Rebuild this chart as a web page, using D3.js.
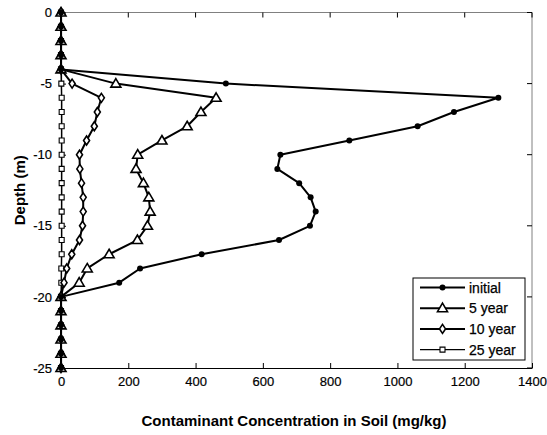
<!DOCTYPE html>
<html>
<head>
<meta charset="utf-8">
<script src="https://cdn.jsdelivr.net/npm/d3@7"></script>
<style>
  body { margin: 0; background: #fff; }
  svg text { font-family: Arial, "Liberation Sans", sans-serif; }
</style>
</head>
<body>
<svg id="chart" width="547" height="435"></svg>
<script>
// depth (m), one point per metre
const depths = d3.range(0, -26, -1);

const initialConc = [0, 0, 0, 0, 0, 490, 1300, 1168, 1060, 857, 652, 643, 708, 742, 757, 740, 648, 418, 235, 173, 0, 0, 0, 0, 0, 0];
const year5Conc   = [0, 0, 0, 0, 0, 163, 461, 416, 375, 300, 228, 223, 245, 261, 265, 257, 227, 143, 78, 54, 0, 0, 0, 0, 0, 0];
const year10Conc  = [0, 0, 0, 0, 0, 33, 120, 108, 99, 76, 55, 56, 61, 66, 66, 64, 55, 32, 17, 9, 0, 0, 0, 0, 0, 0];
const year25Conc  = [0, 0, 0, 0, 0, 1, 2, 2, 2, 2, 2, 2, 2, 2, 2, 2, 2, 2, 1, 1, 0, 0, 0, 0, 0, 0];

const seriesNames = ["initial", "5 year", "10 year", "25 year"];
const xTicks = [0, 200, 400, 600, 800, 1000, 1200, 1400];
const yTicks = [0, -5, -10, -15, -20, -25];

const margin = { top: 12.5, right: 15, bottom: 67, left: 61 };
const width = 547 - margin.left - margin.right,
      height = 435 - margin.top - margin.bottom;

const svg = d3.select("#chart")
  .append("g")
  .attr("transform", `translate(${margin.left},${margin.top})`);

const x = d3.scaleLinear().domain([0, 1400]).range([0, width]);
const y = d3.scaleLinear().domain([0, -25]).range([0, height]);

const series = [
  { name: seriesNames[0], values: initialConc, marker: "circle", lw: 2 },
  { name: seriesNames[1], values: year5Conc, marker: "triangle", lw: 2 },
  { name: seriesNames[2], values: year10Conc, marker: "diamond", lw: 2 },
  { name: seriesNames[3], values: year25Conc, marker: "square", lw: 1.3 }
];

// box: top and right in grey
svg.append("line").attr("x1", 0).attr("x2", width).attr("y1", 0).attr("y2", 0)
  .attr("stroke", "#808080");
svg.append("line").attr("x1", width).attr("x2", width).attr("y1", 0).attr("y2", height)
  .attr("stroke", "#808080");

// mirrored ticks on top / right
svg.append("g").selectAll("line").data(xTicks).join("line")
  .attr("x1", d => x(d)).attr("x2", d => x(d))
  .attr("y1", 0).attr("y2", 5).attr("stroke", "#000");
svg.append("g").selectAll("line").data(yTicks).join("line")
  .attr("x1", width).attr("x2", width - 5)
  .attr("y1", d => y(d)).attr("y2", d => y(d)).attr("stroke", "#000");

// axes, ticks point inward; plain hyphen for negatives, no thousands comma
const fmt = d => String(d);
const xAxis = svg.append("g")
  .attr("transform", `translate(0,${height})`)
  .call(d3.axisBottom(x).tickValues(xTicks).tickFormat(fmt).tickSizeInner(-5).tickSizeOuter(0).tickPadding(9));
const yAxis = svg.append("g")
  .call(d3.axisLeft(y).tickValues(yTicks).tickFormat(fmt).tickSizeInner(-5).tickSizeOuter(0).tickPadding(9));

[xAxis, yAxis].forEach(a => {
  a.select(".domain").attr("stroke", "#000").attr("stroke-width", 1.2);
  a.selectAll(".tick line").attr("stroke", "#000");
  a.selectAll("text").style("font-size", "13px").attr("fill", "#000")
    .attr("stroke", "#000").attr("stroke-width", 0.2);
});

// markers
function markerPath(type) {
  if (type === "triangle") return "M0,-5L5,3.5L-5,3.5Z";
  if (type === "diamond") return "M0,-4.5L3,0L0,4.5L-3,0Z";
  if (type === "square") return "M-2.5,-2.5H2.5V2.5H-2.5Z";
  return null;
}

function drawMarker(g, type) {
  if (type === "circle") {
    g.append("circle").attr("r", 3).attr("fill", "#000");
  } else {
    g.append("path").attr("d", markerPath(type))
      .attr("fill", "#fff").attr("stroke", "#000")
      .attr("stroke-width", type === "square" ? 1.1 : 1.6);
  }
}

const line = d3.line()
  .x(d => x(d[0]))
  .y(d => y(d[1]));

// draw 25 year first so the bigger markers sit on top
series.slice().reverse().forEach(s => {
  const pts = depths.map((dep, i) => [s.values[i], dep]);
  svg.append("path")
    .datum(pts)
    .attr("fill", "none")
    .attr("stroke", "#000")
    .attr("stroke-width", s.lw)
    .attr("stroke-linejoin", "round")
    .attr("d", line);

  svg.append("g").selectAll("g")
    .data(pts)
    .join("g")
    .attr("transform", d => `translate(${x(d[0])},${y(d[1])})`)
    .each(function() { drawMarker(d3.select(this), s.marker); });
});

// legend
const legend = svg.append("g")
  .attr("transform", `translate(${413 - margin.left},${278 - margin.top})`);
legend.append("rect")
  .attr("width", 112).attr("height", 82)
  .attr("fill", "#fff").attr("stroke", "#000");

series.forEach((s, i) => {
  const row = legend.append("g").attr("transform", `translate(0,${9.5 + i * 20.7})`);
  row.append("line")
    .attr("x1", 7).attr("x2", 52)
    .attr("stroke", "#000").attr("stroke-width", s.lw);
  const m = row.append("g").attr("transform", "translate(29.5,0)");
  drawMarker(m, s.marker);
  row.append("text")
    .attr("x", 56).attr("y", 0).attr("dy", "0.36em")
    .style("font-size", "14px")
    .attr("stroke", "#000").attr("stroke-width", 0.25)
    .text(s.name);
});

// axis titles
svg.append("text")
  .attr("x", 294 - margin.left)
  .attr("y", 426 - margin.top)
  .attr("text-anchor", "middle")
  .style("font-size", "15px")
  .style("font-weight", "bold")
  .text("Contaminant Concentration in Soil (mg/kg)");

svg.append("text")
  .attr("transform", `translate(${25 - margin.left},${height / 2}) rotate(-90)`)
  .attr("text-anchor", "middle")
  .style("font-size", "15px")
  .style("font-weight", "bold")
  .text("Depth (m)");
</script>
</body>
</html>
